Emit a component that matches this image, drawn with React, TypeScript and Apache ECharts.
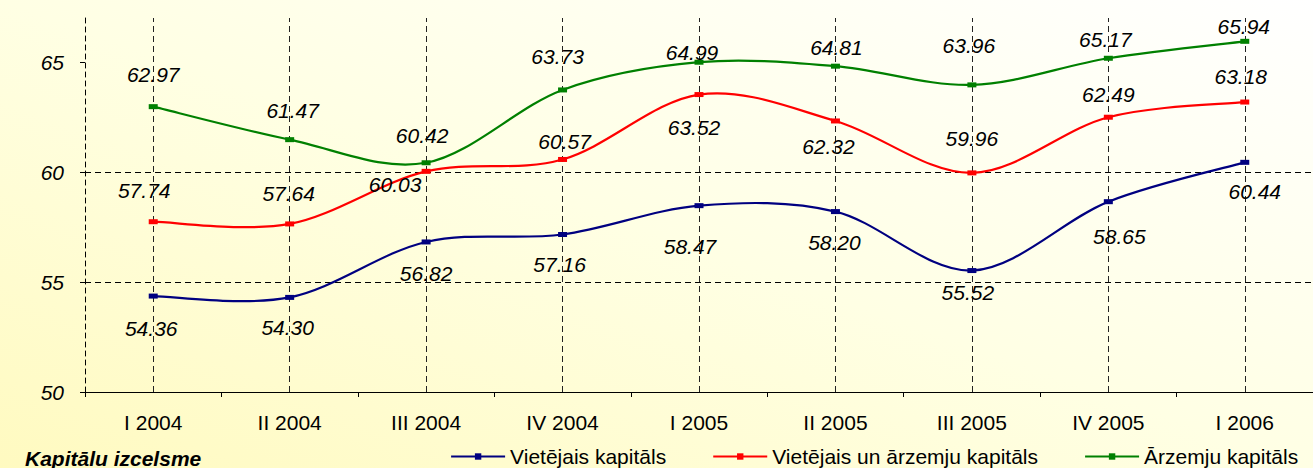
import React, { useEffect, useRef } from "react";
import * as echarts from "echarts";

const categories = ["I 2004", "II 2004", "III 2004", "IV 2004", "I 2005", "II 2005", "III 2005", "IV 2005", "I 2006"];
const seriesNames = ["Vietējais kapitāls", "Vietējais un ārzemju kapitāls", "Ārzemju kapitāls"];
const localCapital = [54.36, 54.3, 56.82, 57.16, 58.47, 58.2, 55.52, 58.65, 60.44];
const mixedCapital = [57.74, 57.64, 60.03, 60.57, 63.52, 62.32, 59.96, 62.49, 63.18];
const foreignCapital = [62.97, 61.47, 60.42, 63.73, 64.99, 64.81, 63.96, 65.17, 65.94];
const yTicks = [50, 55, 60, 65];
const titleText = "Kapitālu izcelsme";

// label placement offsets (layout only)
const localOffsets = [[-2, 32], [-2, 30], [0, 32], [-3, 30], [-9, 41], [-1, 31], [-4, 22], [11, 35], [10, 29]];
const mixedOffsets = [[-9, -31], [-1, -30], [-31, 13], [2, -18], [-5, 33], [-7, 26], [0, -34], [0, -23], [-4, -26]];
const foreignOffsets = [[0, -32], [3, -29], [-4, -27], [-5, -33], [-7, -10], [1, -19], [-3, -39], [-3, -19], [-1, -15]];

const COLORS = ["#000080", "#FF0000", "#008000"];
const LINE_W = 2.2;
const FONT = "'Liberation Sans', Arial, sans-serif";

// smoothed (Catmull-Rom style) curve drawn through the axis scales
function makeCurve(name: string, values: number[], color: string) {
  const n = values.length;
  return {
    name,
    type: "custom",
    coordinateSystem: "cartesian2d",
    z: 3,
    silent: true,
    encode: { x: 0, y: 1 },
    data: values.map((v, i) => [i, v]),
    renderItem: (params: any, api: any) => {
      const i = params.dataIndex;
      if (i >= n - 1) return { type: "group", children: [] };
      const P = (k: number) => {
        const kk = Math.max(0, Math.min(n - 1, k));
        return api.coord([kk, values[kk]]);
      };
      const p0 = P(i - 1);
      const p1 = P(i);
      const p2 = P(i + 1);
      const p3 = P(i + 2);
      const t = 1 / 6;
      return {
        type: "bezierCurve",
        shape: {
          x1: p1[0],
          y1: p1[1],
          x2: p2[0],
          y2: p2[1],
          cpx1: p1[0] + (p2[0] - p0[0]) * t,
          cpy1: p1[1] + (p2[1] - p0[1]) * t,
          cpx2: p2[0] - (p3[0] - p1[0]) * t,
          cpy2: p2[1] - (p3[1] - p1[1]) * t,
        },
        style: { stroke: color, lineWidth: LINE_W, fill: "none" },
      };
    },
  };
}

function makeSeries(name: string, values: number[], offsets: number[][], color: string) {
  return {
    name,
    type: "line",
    z: 5,
    symbol: "rect",
    symbolSize: [9, 5],
    lineStyle: { color, width: LINE_W, opacity: 0 },
    itemStyle: { color },
    data: values.map((v, i) => ({
      value: v,
      label: { offset: offsets[i] },
    })),
    label: {
      show: true,
      position: "inside",
      formatter: (p: any) => Number(p.value).toFixed(2),
      fontFamily: FONT,
      fontSize: 21,
      fontStyle: "italic",
      color: "#000",
      align: "center",
      verticalAlign: "middle",
    },
  };
}

export default function App() {
  const ref = useRef<HTMLDivElement>(null);
  useEffect(() => {
    if (!ref.current) return;
    const chart = echarts.init(ref.current, undefined, { renderer: "svg" });
    chart.setOption({
      animation: false,
      backgroundColor: new echarts.graphic.LinearGradient(0, 1, 1, 0, [
        { offset: 0, color: "#FFFAC0" },
        { offset: 0.5, color: "#FFFFE4" },
        { offset: 1, color: "#FFFFFF" },
      ]),
      textStyle: { fontFamily: FONT },
      grid: { left: 85, right: -5.5, top: 18, bottom: 76, containLabel: false },
      legend: {
        data: seriesNames.map((nm, i) => ({
          name: nm,
          itemStyle: { color: COLORS[i] },
          lineStyle: { color: COLORS[i], width: LINE_W, opacity: 1 },
        })),
        left: 450,
        top: 446,
        padding: 0,
        itemWidth: 54,
        itemHeight: 8,
        itemGap: 46,
        textStyle: { fontFamily: FONT, fontSize: 21, color: "#000" },
      },
      graphic: [
        {
          type: "text",
          x: 25,
          y: 458,
          style: {
            text: titleText,
            font: `italic bold 21px ${FONT}`,
            fill: "#000",
            textVerticalAlign: "middle",
          },
        },
      ],
      xAxis: {
        type: "category",
        data: categories,
        boundaryGap: true,
        axisLine: { lineStyle: { color: "#000", width: 1 } },
        axisTick: { show: true, length: 5, lineStyle: { color: "#000" } },
        axisLabel: { color: "#000", fontSize: 21, fontFamily: FONT, margin: 20 },
        splitLine: { show: false },
      },
      yAxis: {
        type: "value",
        min: 50,
        max: 67,
        interval: 5,
        axisLine: { show: true, lineStyle: { color: "#000", type: [5, 4], width: 1 } },
        axisTick: { show: true, length: 5, customValues: yTicks, lineStyle: { color: "#000" } },
        axisLabel: {
          customValues: yTicks,
          color: "#000",
          fontSize: 21,
          fontStyle: "italic",
          fontFamily: FONT,
          margin: 21,
        },
        splitLine: {
          show: true,
          showMinLine: false,
          showMaxLine: false,
          lineStyle: { color: "#000", type: [6, 4], width: 1 },
        },
      },
      series: [
        {
          name: "__drop",
          type: "line",
          data: [],
          z: 1,
          silent: true,
          markLine: {
            silent: true,
            symbol: "none",
            label: { show: false },
            lineStyle: { color: "#222", type: [6, 4], width: 1 },
            data: categories.map((c) => ({ xAxis: c })),
          },
        },
        makeCurve("__c0", localCapital, COLORS[0]),
        makeCurve("__c1", mixedCapital, COLORS[1]),
        makeCurve("__c2", foreignCapital, COLORS[2]),
        makeSeries(seriesNames[0], localCapital, localOffsets, COLORS[0]),
        makeSeries(seriesNames[1], mixedCapital, mixedOffsets, COLORS[1]),
        makeSeries(seriesNames[2], foreignCapital, foreignOffsets, COLORS[2]),
      ],
    });
    return () => chart.dispose();
  }, []);
  return (
    <div
      ref={ref}
      style={{ position: "absolute", left: 0, top: 0, width: 1313, height: 468 }}
    />
  );
}
